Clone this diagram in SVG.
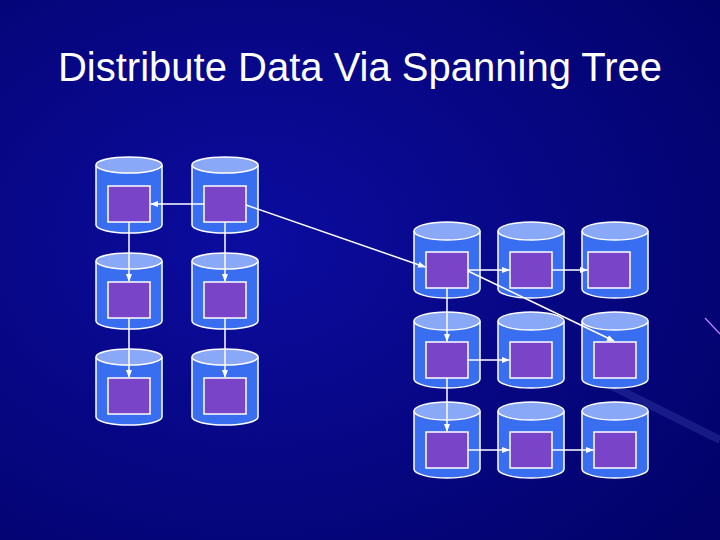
<svg xmlns="http://www.w3.org/2000/svg" width="720" height="540" viewBox="0 0 720 540">
<defs>
<radialGradient id="bg" cx="0.35" cy="0.45" r="0.8">
<stop offset="0" stop-color="#0c0ca0"/><stop offset="1" stop-color="#02026a"/>
</radialGradient>
<marker id="ah" markerWidth="8" markerHeight="8" refX="7" refY="4" orient="auto" markerUnits="userSpaceOnUse">
<path d="M0,1 L8,4 L0,7 Z" fill="#fff"/>
</marker>
<g id="cylL">
<path d="M0,8 V68 A33,8 0 0 0 66,68 V8" fill="#3a6ef0" stroke="#fff" stroke-width="1.5"/>
<ellipse cx="33" cy="8" rx="33" ry="8" fill="#8aa8f8" stroke="#fff" stroke-width="1.5"/>
</g>
<g id="cylR">
<path d="M0,9 V67 A33,9 0 0 0 66,67 V9" fill="#3a6ef0" stroke="#fff" stroke-width="1.5"/>
<ellipse cx="33" cy="9" rx="33" ry="9" fill="#8aa8f8" stroke="#fff" stroke-width="1.5"/>
</g>
</defs>
<style>
.sq{fill:#7a44c8;stroke:#fff;stroke-width:1.5}
.c line{stroke:#fff;stroke-width:1.5;marker-end:url(#ah)}
</style>
<rect width="720" height="540" fill="url(#bg)"/>
<g opacity="0.15" stroke="#8aa0ff" stroke-width="8">
<line x1="600" y1="380" x2="720" y2="440"/>
</g>
<line x1="705" y1="318" x2="720" y2="334" stroke="#c080ff" stroke-width="1.2"/>
<text x="360" y="81" text-anchor="middle" font-family="Liberation Sans, Arial, sans-serif" font-size="40" fill="#fff">Distribute Data Via Spanning Tree</text>

<g id="L11"><use href="#cylL" x="96" y="157"/><rect class="sq" x="108" y="186" width="42" height="36"/></g>
<g id="L12"><use href="#cylL" x="192" y="157"/><rect class="sq" x="204" y="186" width="42" height="36"/></g>
<g id="L21"><use href="#cylL" x="96" y="253"/><rect class="sq" x="108" y="282" width="42" height="36"/></g>
<g id="L22"><use href="#cylL" x="192" y="253"/><rect class="sq" x="204" y="282" width="42" height="36"/></g>
<g id="L31"><use href="#cylL" x="96" y="349"/><rect class="sq" x="108" y="378" width="42" height="36"/></g>
<g id="L32"><use href="#cylL" x="192" y="349"/><rect class="sq" x="204" y="378" width="42" height="36"/></g>

<g id="R11"><use href="#cylR" x="414" y="222"/><rect class="sq" x="426" y="252" width="42" height="36"/></g>
<g id="R12"><use href="#cylR" x="498" y="222"/><rect class="sq" x="510" y="252" width="42" height="36"/></g>
<g id="R13"><use href="#cylR" x="582" y="222"/><rect class="sq" x="588" y="252" width="42" height="36"/></g>
<g id="R21"><use href="#cylR" x="414" y="312"/><rect class="sq" x="426" y="342" width="42" height="36"/></g>
<g id="R22"><use href="#cylR" x="498" y="312"/><rect class="sq" x="510" y="342" width="42" height="36"/></g>
<g id="R23"><use href="#cylR" x="582" y="312"/><rect class="sq" x="594" y="342" width="42" height="36"/></g>
<g id="R31"><use href="#cylR" x="414" y="402"/><rect class="sq" x="426" y="432" width="42" height="36"/></g>
<g id="R32"><use href="#cylR" x="498" y="402"/><rect class="sq" x="510" y="432" width="42" height="36"/></g>
<g id="R33"><use href="#cylR" x="582" y="402"/><rect class="sq" x="594" y="432" width="42" height="36"/></g>

<g class="c">
<line x1="204" y1="204" x2="151" y2="204"/>
<line x1="129" y1="222" x2="129" y2="281"/>
<line x1="129" y1="318" x2="129" y2="377"/>
<line x1="225" y1="222" x2="225" y2="281"/>
<line x1="225" y1="318" x2="225" y2="377"/>
<line x1="246" y1="205" x2="425" y2="267"/>
<line x1="468" y1="270" x2="509" y2="270"/>
<line x1="552" y1="270" x2="587" y2="270"/>
<line x1="468" y1="271" x2="614" y2="341"/>
<line x1="447" y1="288" x2="447" y2="341"/>
<line x1="468" y1="360" x2="509" y2="360"/>
<line x1="447" y1="378" x2="447" y2="431"/>
<line x1="468" y1="450" x2="509" y2="450"/>
<line x1="552" y1="450" x2="593" y2="450"/>
</g>
</svg>
